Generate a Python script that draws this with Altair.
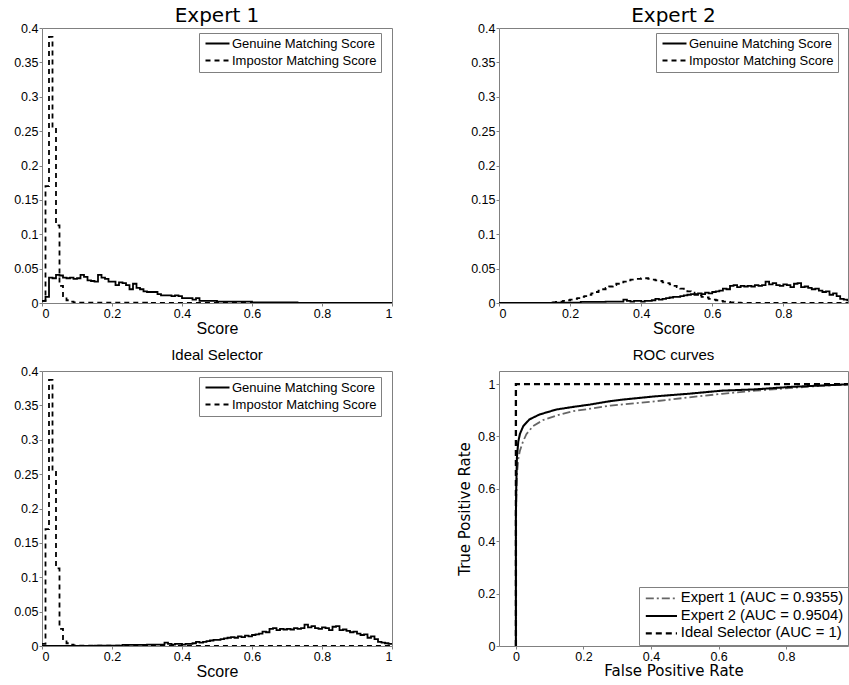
import altair as alt
import pandas as pd

# ---------------- data ----------------
series_names = ["Genuine Matching Score", "Impostor Matching Score"]

expert1_genuine = [
    0.003, 0.009, 0.037, 0.036, 0.041, 0.040, 0.037, 0.036, 0.037, 0.035,
    0.036, 0.041, 0.038, 0.033, 0.032, 0.031, 0.041, 0.037, 0.035, 0.031,
    0.031, 0.026, 0.030, 0.029, 0.026, 0.020, 0.028, 0.022, 0.020, 0.017,
    0.016, 0.016, 0.016, 0.013, 0.011, 0.011, 0.011, 0.010, 0.011, 0.010,
    0.007, 0.007, 0.007, 0.005, 0.007, 0.003, 0.003, 0.003, 0.003, 0.003,
    0.002, 0.002, 0.002, 0.002, 0.002, 0.002, 0.002, 0.002, 0.002, 0.002,
    0.001, 0.001, 0.001, 0.001, 0.001, 0.001, 0.001, 0.001, 0.001, 0.001,
    0.001, 0.001, 0.001, 0.0, 0.0, 0.0, 0.0, 0.0, 0.0, 0.0,
    0.0, 0.0, 0.0, 0.0, 0.0, 0.0, 0.0, 0.0, 0.0, 0.0,
    0.0, 0.0, 0.0, 0.0, 0.0, 0.0, 0.0, 0.0, 0.0, 0.0,
]

expert1_impostor = [
    0.003, 0.170, 0.387, 0.255, 0.113, 0.025, 0.010, 0.004, 0.002, 0.001,
    0.0005, 0.0005, 0.0005, 0.0005, 0.0005, 0.0005, 0.0005, 0.0005, 0.0005, 0.0005,
    0.0005, 0.0005, 0.0005, 0.0005, 0.0005, 0.0005, 0.0005, 0.0005, 0.0005, 0.0005,
    0.0, 0.0, 0.0, 0.0, 0.0, 0.0, 0.0, 0.0, 0.0, 0.0,
    0.0, 0.0, 0.0, 0.0, 0.0, 0.0, 0.0, 0.0, 0.0, 0.0,
    0.0, 0.0, 0.0, 0.0, 0.0, 0.0, 0.0, 0.0, 0.0, 0.0,
    0.0, 0.0, 0.0, 0.0, 0.0, 0.0, 0.0, 0.0, 0.0, 0.0,
    0.0, 0.0, 0.0, 0.0, 0.0, 0.0, 0.0, 0.0, 0.0, 0.0,
    0.0, 0.0, 0.0, 0.0, 0.0, 0.0, 0.0, 0.0, 0.0, 0.0,
    0.0, 0.0, 0.0, 0.0, 0.0, 0.0, 0.0, 0.0, 0.0, 0.0,
]

expert2_genuine = [
    0.0, 0.0, 0.0, 0.0, 0.0, 0.0, 0.0, 0.0, 0.0, 0.0,
    0.0, 0.0, 0.0, 0.0, 0.0, 0.0005, 0.0005, 0.0005, 0.0005, 0.0005,
    0.0005, 0.0005, 0.0005, 0.0015, 0.0015, 0.0015, 0.0015, 0.0015, 0.0015, 0.0015,
    0.002, 0.002, 0.002, 0.002, 0.002, 0.005, 0.003, 0.002, 0.003, 0.003,
    0.002, 0.003, 0.003, 0.004, 0.006, 0.005, 0.006, 0.007, 0.008, 0.009,
    0.009, 0.010, 0.011, 0.012, 0.013, 0.012, 0.014, 0.013, 0.015, 0.014,
    0.016, 0.017, 0.018, 0.021, 0.020, 0.025, 0.026, 0.023, 0.025, 0.024,
    0.025, 0.024, 0.026, 0.025, 0.026, 0.031, 0.027, 0.029, 0.026, 0.025,
    0.027, 0.026, 0.023, 0.028, 0.029, 0.023, 0.024, 0.022, 0.020, 0.021,
    0.018, 0.016, 0.017, 0.012, 0.014, 0.010, 0.006, 0.005, 0.004, 0.003,
]

expert2_impostor = [
    0.0, 0.0, 0.0, 0.0, 0.0, 0.0, 0.0, 0.0, 0.0, 0.0,
    0.0003, 0.0003, 0.0003, 0.0003, 0.0008, 0.001, 0.0015, 0.002, 0.003, 0.004,
    0.005, 0.006, 0.007, 0.009, 0.010, 0.012, 0.014, 0.016, 0.018, 0.020,
    0.022, 0.024, 0.026, 0.028, 0.030, 0.031, 0.033, 0.034, 0.035, 0.035,
    0.036, 0.036, 0.035, 0.034, 0.033, 0.032, 0.030, 0.029, 0.027, 0.025,
    0.023, 0.021, 0.019, 0.017, 0.015, 0.013, 0.011, 0.009, 0.008, 0.006,
    0.005, 0.004, 0.003, 0.002, 0.0015, 0.001, 0.0007, 0.0005, 0.0003, 0.0003,
    0.0003, 0.0003, 0.0003, 0.0003, 0.0003, 0.0003, 0.0, 0.0, 0.0, 0.0,
    0.0, 0.0, 0.0, 0.0, 0.0, 0.0, 0.0, 0.0, 0.0, 0.0,
    0.0, 0.0, 0.0, 0.0, 0.0, 0.0, 0.0, 0.0, 0.0, 0.0,
]

# Ideal selector: genuine of the better expert, impostor of the better expert
ideal_genuine = expert2_genuine
ideal_impostor = expert1_impostor

roc_names = ["Expert 1 (AUC = 0.9355)", "Expert 2 (AUC = 0.9504)", "Ideal Selector (AUC = 1)"]
roc1_fpr = [0.0, 0.0, 0.001, 0.003, 0.007, 0.012, 0.02, 0.031, 0.051, 0.081, 0.12, 0.17, 0.22, 0.28,
            0.41, 0.51, 0.61, 0.71, 0.81, 0.91, 1.0]
roc1_tpr = [0.0, 0.45, 0.55, 0.65, 0.714, 0.746, 0.777, 0.809, 0.84, 0.863, 0.88, 0.897, 0.906, 0.918,
            0.934, 0.949, 0.963, 0.975, 0.985, 0.994, 1.0]
roc2_fpr = [0.0, 0.0, 0.001, 0.003, 0.007, 0.012, 0.022, 0.04, 0.07, 0.12, 0.17, 0.22, 0.28, 0.31,
            0.41, 0.51, 0.61, 0.71, 0.81, 0.91, 1.0]
roc2_tpr = [0.0, 0.5, 0.60, 0.72, 0.78, 0.81, 0.84, 0.865, 0.884, 0.903, 0.913, 0.922, 0.935, 0.94,
            0.953, 0.963, 0.975, 0.98, 0.989, 0.995, 1.0]
roc_ideal_fpr = [0.0, 0.0, 1.0]
roc_ideal_tpr = [0.0, 1.0, 1.0]

x_ticks = [0, 0.2, 0.4, 0.6, 0.8, 1]
x_ticks_cut = [0, 0.2, 0.4, 0.6, 0.8]
y_ticks_hist = [0, 0.05, 0.1, 0.15, 0.2, 0.25, 0.3, 0.35, 0.4]
y_ticks_roc = [0, 0.2, 0.4, 0.6, 0.8, 1]

# ---------------- helpers ----------------
GRAY = "#808080"
SANS = "Liberation Sans"
DEJAVU = "DejaVu Sans"


def hist_df(genuine, impostor):
    rows = []
    for name, vals in zip(series_names, [genuine, impostor]):
        n = len(vals)
        for i in range(n + 1):
            v = vals[i] if i < n else vals[-1]
            rows.append({"x": i / n, "y": v, "series": name, "order": i})
    return pd.DataFrame(rows)


def hist_panel(title, title_font, title_size, title_offset, genuine, impostor,
               x_max, xvals, width, legend_x, legend_y):
    df = hist_df(genuine, impostor)
    return alt.Chart(df, title=alt.Title(title, font=title_font, fontSize=title_size,
                                         fontWeight="normal", offset=title_offset,
                                         color="black")).mark_line(
        interpolate="step-after", strokeWidth=1.8, color="black", clip=True
    ).encode(
        x=alt.X("x:Q", scale=alt.Scale(domain=[0, x_max], nice=False, zero=False),
                axis=alt.Axis(values=xvals, format="~g", title="Score",
                              titleFont=SANS, titleFontSize=16, titlePadding=1)),
        y=alt.Y("y:Q", scale=alt.Scale(domain=[0, 0.4], nice=False),
                axis=alt.Axis(values=y_ticks_hist, format="~g", title=None)),
        strokeDash=alt.StrokeDash(
            "series:N",
            scale=alt.Scale(domain=series_names, range=[[1, 0], [5, 4]]),
            legend=alt.Legend(title=None, orient="none", legendX=legend_x, legendY=legend_y,
                              fillColor="white", strokeColor=GRAY, padding=4,
                              symbolType="M-4,0H4", symbolSize=36, symbolStrokeWidth=1.8,
                              symbolOffset=8, symbolStrokeColor="black",
                              labelFont=SANS, labelFontSize=13, labelLimit=300,
                              labelColor="black", labelOffset=8, rowPadding=3),
        ),
        order="order:Q",
    ).properties(width=width, height=275)


p1 = hist_panel("Expert 1", DEJAVU, 20, -4, expert1_genuine, expert1_impostor,
                1.0, x_ticks, 350, 157, 5)
p2 = hist_panel("Expert 2", DEJAVU, 20, -4, expert2_genuine, expert2_impostor,
                0.982, x_ticks_cut, 349, 157, 5)
p3 = hist_panel("Ideal Selector", SANS, 15, 2, ideal_genuine, ideal_impostor,
                1.0, x_ticks, 350, 157, 6)

roc_rows = []
for name, fx, ty in zip(roc_names, [roc1_fpr, roc2_fpr, roc_ideal_fpr],
                        [roc1_tpr, roc2_tpr, roc_ideal_tpr]):
    for i, (a, b) in enumerate(zip(fx, ty)):
        roc_rows.append({"fpr": a, "tpr": b, "curve": name, "order": i})
roc_df = pd.DataFrame(roc_rows)

roc_legend = alt.Legend(title=None, orient="none", legendX=140, legendY=216,
                        fillColor="white", strokeColor=GRAY, padding=4,
                        symbolType="M-5.2,0H5.2", symbolSize=36, symbolOffset=11,
                        labelFont=SANS, labelFontSize=14.8, labelLimit=300,
                        labelColor="black", labelOffset=12, rowPadding=1.5)

p4 = alt.Chart(roc_df, title=alt.Title("ROC curves", font=SANS, fontSize=15, fontWeight="normal",
                                       offset=8, color="black")).mark_line(clip=True).encode(
    x=alt.X("fpr:Q", scale=alt.Scale(domain=[-0.05, 0.983], nice=False, zero=False),
            axis=alt.Axis(values=x_ticks_cut, format="~g", title="False Positive Rate",
                          titleFont=DEJAVU, titleFontSize=15, titlePadding=1)),
    y=alt.Y("tpr:Q", scale=alt.Scale(domain=[0, 1.05], nice=False),
            axis=alt.Axis(values=y_ticks_roc, format="~g", title="True Positive Rate",
                          titleFont=DEJAVU, titleFontSize=15, titlePadding=5)),
    color=alt.Color("curve:N", scale=alt.Scale(domain=roc_names, range=["#666666", "black", "black"]),
                    legend=roc_legend),
    strokeDash=alt.StrokeDash(
        "curve:N",
        scale=alt.Scale(domain=roc_names, range=[[8, 3, 2, 3], [1, 0], [6, 4]]),
        legend=roc_legend,
    ),
    strokeWidth=alt.StrokeWidth("curve:N", scale=alt.Scale(domain=roc_names, range=[1.8, 2.3, 2.6]),
                                legend=roc_legend),
    order="order:Q",
).properties(width=349, height=275)

chart = alt.concat(
    p1, p2, p3, p4, columns=2, bounds="flush", spacing={"row": 68, "column": 107}
).resolve_scale(
    x="independent", y="independent", strokeDash="independent", color="independent",
    strokeWidth="independent"
).resolve_legend(strokeDash="independent", color="independent",
                 strokeWidth="independent").properties(
    padding={"left": 13, "top": 5, "right": 0, "bottom": 0}
).configure(font=SANS).configure_view(
    stroke=GRAY, strokeWidth=1
).configure_axis(
    grid=False, domain=False, tickColor=GRAY, tickSize=3, labelFont=SANS, labelFontSize=12.5,
    labelColor="black", labelPadding=1, titleColor="black", titleFontWeight="normal"
)

chart.save("out.html", embed_options={"renderer": "svg", "actions": False})
